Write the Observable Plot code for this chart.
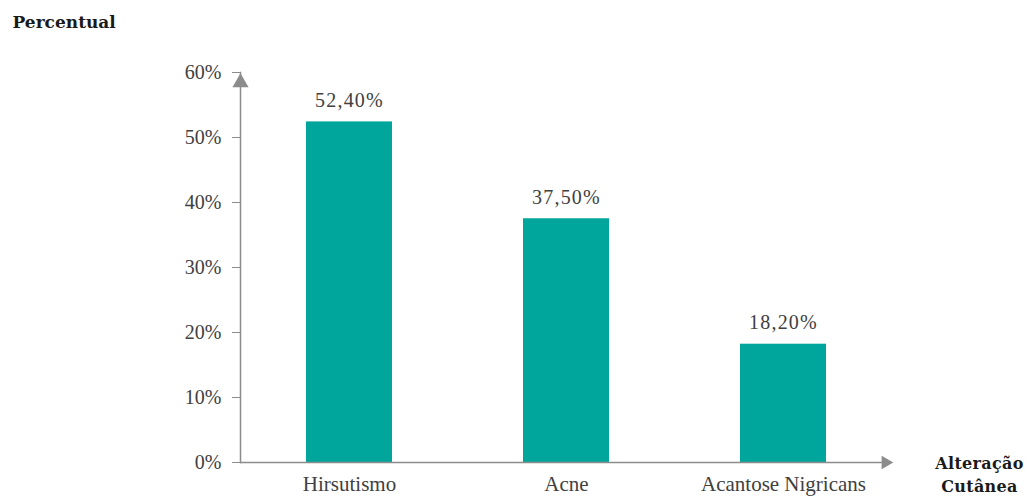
<!DOCTYPE html>
<html>
<head>
<meta charset="utf-8">
<script src="https://cdn.jsdelivr.net/npm/d3@7"></script>
<script src="https://cdn.jsdelivr.net/npm/@observablehq/plot@0.6"></script>
<style>
  html, body { margin: 0; padding: 0; background: #fff; }
  .vlabel { letter-spacing: 1.2px; }
  .xtitle { letter-spacing: 0.3px; }
</style>
</head>
<body>
<div id="chart"></div>
<script>
const categories = ["Hirsutismo", "Acne", "Acantose Nigricans"];
const values = [52.4, 37.5, 18.2];
const yTicks = [0, 10, 20, 30, 40, 50, 60];
const yTitle = "Percentual";
const xTitle = "Alteração\nCutânea";

const data = categories.map((c, i) => ({category: c, value: values[i]}));

const teal = "#00a69c";
const axisGray = "#8c8c8c";
const textColor = "#404040";
const serif = "Liberation Serif, Times New Roman, serif";
const titleFont = "DejaVu Serif, serif";
const fmt = v => v.toFixed(2).replace(".", ",") + "%";

const chart = Plot.plot({
  width: 1029,
  height: 496,
  marginLeft: 240,
  marginRight: 138,
  marginTop: 72,
  marginBottom: 34,
  style: {fontFamily: serif, background: "#fff"},
  x: {domain: categories, paddingInner: 0.605, paddingOuter: 0.3, axis: null},
  y: {domain: [0, 60], axis: null},
  marks: [
    Plot.barY(data, {x: "category", y: "value", fill: teal}),
    Plot.axisY({ticks: yTicks, tickSize: 8, tickPadding: 11, tickFormat: d => d + "%", stroke: axisGray, fill: textColor, fontSize: 20, fontFamily: serif, label: null}),
    Plot.axisX({tickSize: 0, tickPadding: 14, fill: textColor, fontSize: 21, fontFamily: serif, label: null}),
    Plot.ruleY([0], {stroke: axisGray, strokeWidth: 1.5}),
    Plot.frame({anchor: "left", stroke: axisGray, strokeWidth: 1.5}),
    Plot.dot([60], {y: d => d, frameAnchor: "left", symbol: "triangle", r: 6, fill: axisGray, stroke: null, dy: 10}),
    Plot.dot([0], {y: d => d, frameAnchor: "right", symbol: "triangle", rotate: 90, r: 5, fill: axisGray, stroke: null, dx: -6}),
    Plot.text(data, {x: "category", y: "value", text: d => fmt(d.value), dy: -15, lineAnchor: "bottom", fill: textColor, fontSize: 20, fontFamily: serif, className: "vlabel"}),
    Plot.text([yTitle], {frameAnchor: "top-left", dx: -228, dy: -57, textAnchor: "start", lineAnchor: "top", fontWeight: "bold", fontSize: 17, fill: "#1a1a1a", fontFamily: titleFont}),
    Plot.text([xTitle], {frameAnchor: "bottom-right", dx: 88, dy: -9, textAnchor: "middle", lineAnchor: "top", lineHeight: 1.4, fontWeight: "bold", fontSize: 16, fill: "#1a1a1a", fontFamily: titleFont, className: "xtitle"})
  ]
});
document.getElementById("chart").appendChild(chart);
</script>
</body>
</html>
